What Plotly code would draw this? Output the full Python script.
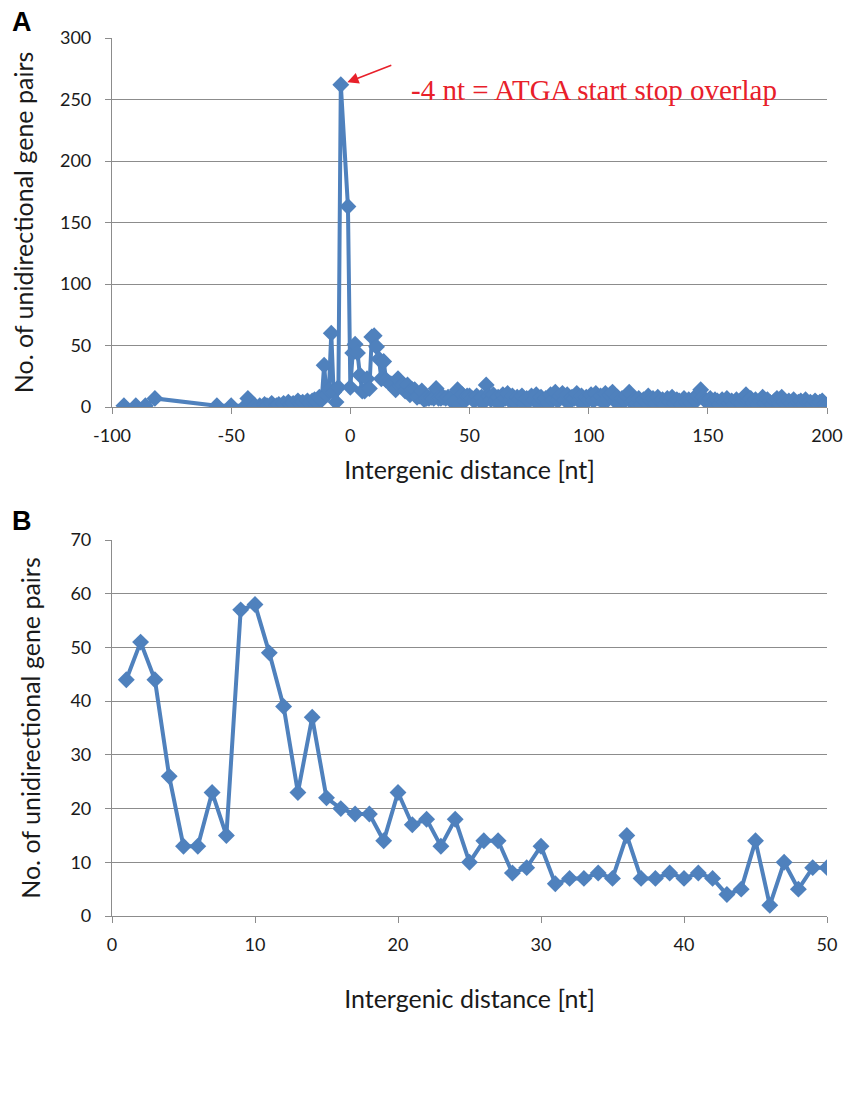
import plotly.graph_objects as go
from plotly.subplots import make_subplots

# panel A: intergenic distance vs number of unidirectional gene pairs
dist_neg = [-95, -90, -86, -82, -56, -50, -44, -43, -40, -38, -36, -35, -33, -31, -30,
            -28, -26, -25, -24, -22, -21, -20, -18, -17, -16, -15, -14, -13, -12, -11,
            -10, -9, -8, -7, -6, -5, -4, -1, 0]
pairs_neg = [1, 1, 1, 7, 1, 1, 1, 7, 1, 1, 2, 1, 3, 1, 2,
             3, 4, 2, 3, 5, 3, 4, 5, 3, 5, 6, 4, 8, 6, 34,
             10, 14, 60, 12, 4, 16, 262, 163, 16]

# panel B: 1..50 nt (also part of panel A)
dist_b = list(range(1, 51))
pairs_b = [44, 51, 44, 26, 13, 13, 23, 15, 57, 58,
           49, 39, 23, 37, 22, 20, 19, 19, 14, 23,
           17, 18, 13, 18, 10, 14, 14, 8, 9, 13,
           6, 7, 7, 8, 7, 15, 7, 7, 8, 7,
           8, 7, 4, 5, 14, 2, 10, 5, 9, 9]

dist_tail = list(range(51, 201))
pairs_tail = [7, 5, 9, 6, 8, 4, 18, 9, 6, 10,
              5, 8, 4, 10, 7, 11, 5, 9, 4, 8,
              6, 9, 3, 7, 5, 9, 6, 10, 4, 8,
              5, 7, 3, 10, 6, 12, 5, 9, 11, 6,
              10, 4, 8, 7, 11, 5, 9, 3, 8, 6,
              10, 5, 11, 7, 9, 4, 11, 6, 10, 12,
              5, 8, 3, 7, 5, 9, 12, 4, 6, 3,
              7, 2, 6, 4, 9, 5, 7, 3, 8, 5,
              6, 2, 7, 4, 8, 3, 6, 5, 2, 7,
              4, 6, 3, 7, 5, 9, 14, 8, 5, 4,
              7, 3, 6, 5, 2, 6, 4, 7, 3, 5,
              2, 6, 4, 3, 7, 10, 5, 7, 3, 6,
              2, 5, 8, 3, 6, 4, 2, 5, 7, 3,
              8, 4, 2, 5, 3, 6, 2, 4, 5, 2,
              6, 3, 4, 2, 5, 3, 4, 5, 2, 1]

dist_a = dist_neg + dist_b + dist_tail
pairs_a = pairs_neg + pairs_b + pairs_tail

xticks_a = [-100, -50, 0, 50, 100, 150, 200]

blue = "#4F81BD"
grid = "#8C8C8C"
font = "Lato"
txt = "#1a1a1a"

fig = make_subplots(rows=2, cols=1, vertical_spacing=0.15)

for x, y, r in [(dist_a, pairs_a, 1), (dist_b, pairs_b, 2)]:
    fig.add_trace(go.Scatter(x=x, y=y, mode="lines+markers",
                             line=dict(color=blue, width=4),
                             marker=dict(symbol="diamond", size=13, color=blue),
                             showlegend=False), row=r, col=1)

axis_common = dict(showline=True, linecolor=grid, linewidth=1.2, ticks="outside",
                   tickcolor=grid, ticklen=6, tickfont=dict(size=18, color=txt),
                   zeroline=False)

fig.update_xaxes(**axis_common, showgrid=False, ticklabelstandoff=6)
fig.update_yaxes(**axis_common, showgrid=True, gridcolor=grid, gridwidth=1.2,
                 ticklabelstandoff=10,
                 title=dict(text="No. of unidirectional gene pairs", font=dict(size=25, color=txt), standoff=22))

fig.update_xaxes(range=[-100, 200], tickvals=xticks_a, ticktext=[str(v) for v in xticks_a],
                 domain=[0, 1], row=1, col=1,
                 title=dict(text="Intergenic distance [nt]", font=dict(size=25, color=txt), standoff=16))
fig.update_yaxes(range=[0, 300], dtick=50, domain=[0.5797, 1], row=1, col=1)
fig.update_xaxes(range=[0, 50], dtick=10, domain=[0, 1], row=2, col=1,
                 title=dict(text="Intergenic distance [nt]", font=dict(size=25, color=txt), standoff=36))
fig.update_yaxes(range=[0, 70], dtick=10, domain=[0, 0.4282], row=2, col=1)

fig.add_annotation(x=-4, y=262, xref="x", yref="y", ax=52, ay=-20,
                   text="", showarrow=True, arrowhead=2, arrowsize=1.4,
                   arrowwidth=1.6, arrowcolor="#E8202A", standoff=7)
fig.add_annotation(x=0.4156, y=0.961, xref="paper", yref="paper", xanchor="left",
                   text="-4 nt = ATGA start stop overlap", showarrow=False,
                   font=dict(family="Liberation Serif", size=29, color="#E8202A"))

for label, ypos in [("A", 1.018), ("B", 0.450)]:
    fig.add_annotation(x=-0.1255, y=ypos, xref="paper", yref="paper", showarrow=False,
                       xanchor="center", yanchor="middle",
                       text=f"<b>{label}</b>", font=dict(size=27, color="black", family="Liberation Sans"))

fig.update_layout(width=851, height=1108, plot_bgcolor="white", paper_bgcolor="white",
                  margin=dict(l=102, r=32, t=30, b=200),
                  font=dict(family=font))

fig.write_html("out.html")
